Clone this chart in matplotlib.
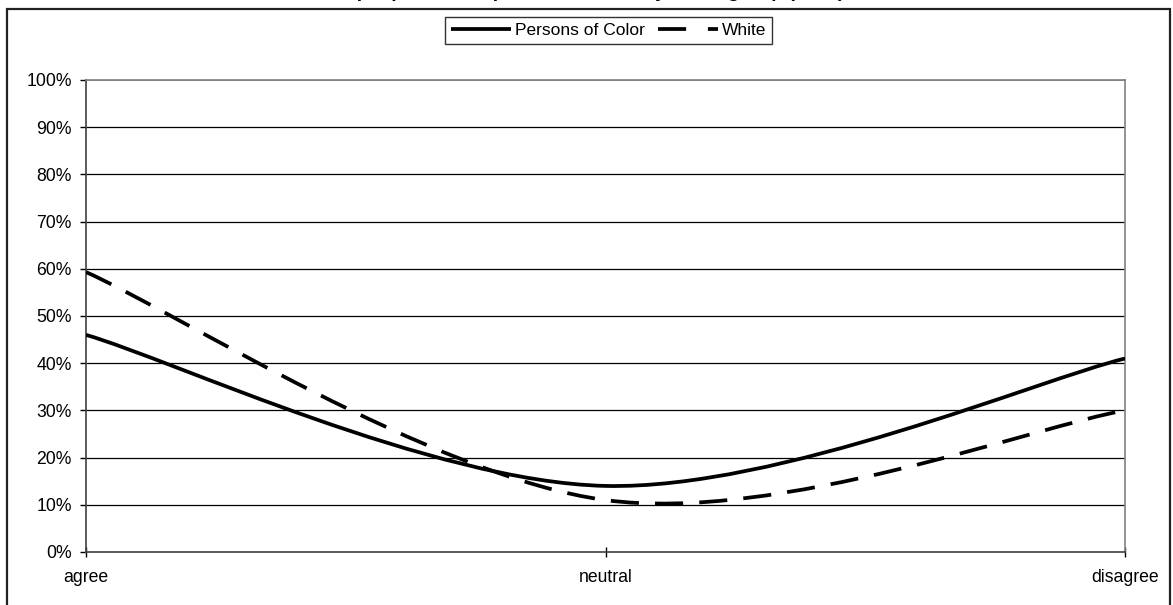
import numpy as np
import matplotlib.pyplot as plt
from matplotlib.path import Path
from matplotlib.patches import PathPatch, Rectangle
from matplotlib.lines import Line2D
from matplotlib.ticker import PercentFormatter

plt.rcParams['font.family'] = ['Liberation Sans', 'DejaVu Sans']

# data
categories = ['agree', 'neutral', 'disagree']
persons_of_color = [46, 14, 41]
white = [59.3, 11, 30]
title_text = 'Most people feel respected in class, by racial group (2008)'


def smooth_path(xs, ys):
    # Excel-style smoothed line: cubic bezier through the points (Catmull-Rom tangents)
    pts = np.column_stack([xs, ys]).astype(float)
    ext = np.vstack([pts[0], pts, pts[-1]])
    verts = [pts[0]]
    codes = [Path.MOVETO]
    for i in range(len(pts) - 1):
        p0, p1, p2, p3 = ext[i], ext[i + 1], ext[i + 2], ext[i + 3]
        verts += [p1 + (p2 - p0) / 6, p2 - (p3 - p1) / 6, p2]
        codes += [Path.CURVE4] * 3
    return Path(verts, codes)


fig = plt.figure(figsize=(11.73, 6.05), dpi=100)
ax = fig.add_axes([86 / 1173, 1 - 552 / 605, (1125 - 86) / 1173, (552 - 80) / 605])

x = np.arange(len(categories))
lw = 2.7
dash = (0, (7.5, 4.3))
ax.add_patch(PathPatch(smooth_path(x, persons_of_color), fill=False, lw=lw,
                       color='black', capstyle='butt', zorder=3))
ax.add_patch(PathPatch(smooth_path(x, white), fill=False, lw=lw, color='black',
                       linestyle=dash, capstyle='butt', zorder=3))

ax.set_xlim(0, len(categories) - 1)
ax.set_ylim(0, 100)
ax.set_yticks(np.arange(0, 101, 10))
ax.yaxis.set_major_formatter(PercentFormatter(decimals=0))
ax.set_xticks(x)
ax.set_xticklabels(categories)
ax.tick_params(axis='both', labelsize=12.7, color='black', width=1)
ax.tick_params(axis='x', pad=9, direction='inout', length=7)
ax.tick_params(axis='y', pad=6, length=4.3)

for v in range(10, 100, 10):
    ax.axhline(v, color='black', lw=0.9, zorder=1)
ax.axhline(100, color='#808080', lw=1.2, zorder=1)

for s in ['top', 'right']:
    ax.spines[s].set_color('#808080')
    ax.spines[s].set_linewidth(1.2)
for s in ['left', 'bottom']:
    ax.spines[s].set_color('#404040')
    ax.spines[s].set_linewidth(1.2)

handles = [Line2D([], [], color='black', lw=lw, solid_capstyle='butt'),
           Line2D([], [], color='black', lw=lw, linestyle=(0, (7.5, 5.8)),
                  dash_capstyle='butt')]
leg = fig.legend(handles, ['Persons of Color', 'White'], loc='center',
                 bbox_to_anchor=(608.5 / 1173, 1 - 30.5 / 605), ncol=2, fontsize=12.5,
                 frameon=True, fancybox=False, handlelength=3.45, handletextpad=0.25,
                 columnspacing=0.75, borderpad=0.35, borderaxespad=0)
leg.get_frame().set_edgecolor('black')
leg.get_frame().set_linewidth(1)

# outer chart frame
fig.patches.append(Rectangle((7 / 1173, -0.01), 1163 / 1173, 1 - 9 / 605 + 0.01,
                             transform=fig.transFigure, fill=False,
                             edgecolor='#202020', lw=1.6))

# title, cut off at the top of the image
fig.text(0.49, 1 + 3 / 605, title_text, ha='center', va='baseline',
         fontsize=14, fontweight='bold')

fig.savefig('out.png', dpi=100)
